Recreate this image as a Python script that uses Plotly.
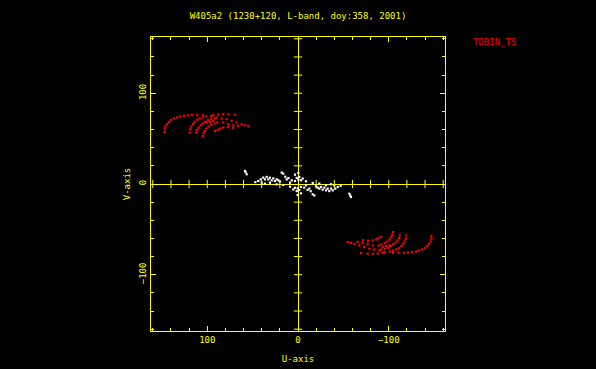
import plotly.graph_objects as go

TITLE = "W405a2 (1230+120, L-band, doy:358, 2001)"
SOURCE = "TDBIN_TS"
X_LABEL = "U-axis"
Y_LABEL = "V-axis"
TICK_VALUES = [100, 0, -100]
AXIS_LIMIT = 162

# UV points (one half of the Hermitian pairs)
RED_U = [147.0, 147.0, 146.3, 144.4, 142.2, 139.7, 136.7, 133.4, 130.1, 125.7,
         121.3, 116.9, 111.0, 104.7, 93.4, 87.9, 82.4, 76.8, 69.5,
         119.4, 118.7, 117.6, 115.8, 113.9, 111.0, 108.4, 104.7, 101.1, 95.6,
         89.6, 84.1, 78.6, 73.1, 67.6, 62.1, 58.4, 54.8,
         112.1, 111.4, 109.5, 107.3, 104.7, 102.2, 99.2, 95.6, 91.8,
         104.7, 104.0, 102.9, 101.1, 98.5, 95.6, 91.8, 89.0, 82.4, 76.8, 71.3, 65.8,
         91.5, 88.5, 86.0, 82.4, 77.2, 71.7,
         100.7, 97.0, 93.4]
RED_V = [57.3, 60.3, 63.3, 65.9, 68.4, 70.7, 72.2, 73.3, 74.4, 75.1,
         75.6, 75.9, 75.9, 75.9, 75.9, 76.7, 77.0, 76.7, 76.2,
         56.7, 60.3, 63.3, 65.9, 68.4, 70.7, 72.2, 73.3, 74.4, 75.1,
         73.3, 72.2, 71.4, 69.6, 67.8, 65.9, 64.8, 64.0,
         56.7, 59.6, 62.2, 64.8, 66.7, 68.4, 70.3, 71.4, 72.2,
         52.9, 55.9, 58.4, 61.1, 63.3, 65.1, 66.7, 67.8, 67.8, 65.9, 64.8, 64.0,
         58.4, 59.6, 61.1, 62.2, 62.6, 62.0,
         67.8, 68.4, 69.6]

WHITE_U = [43.8, 41.1, 38.3, 36.4, 34.5, 32.7, 30.9, 29.0, 27.2, 25.4,
           23.5, 21.7, 19.8, 18.0, 16.2, 12.5, 8.8, 6.9, 3.3,
           40.0, 36.4, 30.9, 23.5, 16.2, 8.8, 3.3, 1.4, 5.2,
           58.4, 57.7, 56.6, 3.3, -0.4, 1.4, -0.4, 47.0, 14.0, 10.5]
WHITE_V = [3.3, 5.1, 7.0, 5.1, 7.8, 5.1, 7.0, 4.0, 6.2, 3.3,
           5.1, 4.0, 2.6, 12.6, 11.4, 5.1, 1.4, 4.0, 3.3,
           1.4, 0.3, 1.4, -0.4, -1.1, -3.0, -4.1, -7.8, -6.0,
           14.4, 12.9, 10.7, 10.3, 12.2, 6.7, 4.8, 2.0, 8.0, 6.5]

# Complete the Hermitian (conjugate) visibility points
red_u = RED_U + [-u for u in RED_U]
red_v = RED_V + [-v for v in RED_V]
white_u = WHITE_U + [-u for u in WHITE_U]
white_v = WHITE_V + [-v for v in WHITE_V]

YELLOW = "#ffff00"
FONT = "DejaVu Sans Mono"

fig = go.Figure()
fig.add_trace(go.Scatter(x=red_u, y=red_v, mode="markers",
                         marker=dict(symbol="square", size=2.2, color="#ff0000", line=dict(width=0)),
                         hoverinfo="skip", showlegend=False))
fig.add_trace(go.Scatter(x=white_u, y=white_v, mode="markers",
                         marker=dict(symbol="square", size=2.2, color="#ffffff", line=dict(width=0)),
                         hoverinfo="skip", showlegend=False))

# tick marks along the zero lines (axis decoration)
zt = [t for t in range(-160, 161, 20) if t != 0]
fig.add_trace(go.Scatter(x=zt, y=[0] * len(zt), mode="markers",
                         marker=dict(symbol="line-ns", size=6, line=dict(width=1, color=YELLOW)),
                         hoverinfo="skip", showlegend=False))
fig.add_trace(go.Scatter(x=[0] * len(zt), y=zt, mode="markers",
                         marker=dict(symbol="line-ew", size=6, line=dict(width=1, color=YELLOW)),
                         hoverinfo="skip", showlegend=False))

axis_common = dict(
    range=[AXIS_LIMIT, -AXIS_LIMIT],
    tickvals=TICK_VALUES,
    ticktext=["100", "0", "\u2212100"],
    ticks="inside", ticklen=5, tickwidth=1, tickcolor=YELLOW,
    minor=dict(dtick=20, tick0=0, ticks="inside", ticklen=3, tickwidth=1, tickcolor=YELLOW),
    showline=True, linecolor=YELLOW, linewidth=1, mirror="ticks",
    showgrid=False,
    zeroline=True, zerolinecolor=YELLOW, zerolinewidth=1,
    tickfont=dict(family=FONT, size=9, color=YELLOW),
    title_font=dict(family=FONT, size=9, color=YELLOW),
    automargin=False,
)

fig.update_xaxes(**axis_common, title_text=X_LABEL, title_standoff=11)
fig.update_yaxes(**axis_common, title_text=Y_LABEL, title_standoff=6, tickangle=-90)
fig.update_yaxes(range=[-AXIS_LIMIT, AXIS_LIMIT])

fig.update_layout(
    width=596, height=369,
    margin=dict(l=151, r=151, t=37, b=38, autoexpand=False),
    paper_bgcolor="black", plot_bgcolor="black",
    title=dict(text=TITLE, x=0.5, xanchor="center", y=1 - 16 / 369, yanchor="middle",
               font=dict(family=FONT, size=9, color=YELLOW)),
    showlegend=False,
    annotations=[dict(text=SOURCE, xref="paper", yref="paper", x=1.168, y=0.984,
                      xanchor="center", yanchor="middle", showarrow=False,
                      font=dict(family=FONT, size=9, color="#ff0000"))],
)

fig.write_html(
    "out.html",
    config={"displayModeBar": False},
    post_script="document.body.style.margin='0';document.body.style.padding='0';"
                "document.body.style.background='black';"
                "document.documentElement.style.background='black';"
                "document.body.style.overflow='hidden';",
)
